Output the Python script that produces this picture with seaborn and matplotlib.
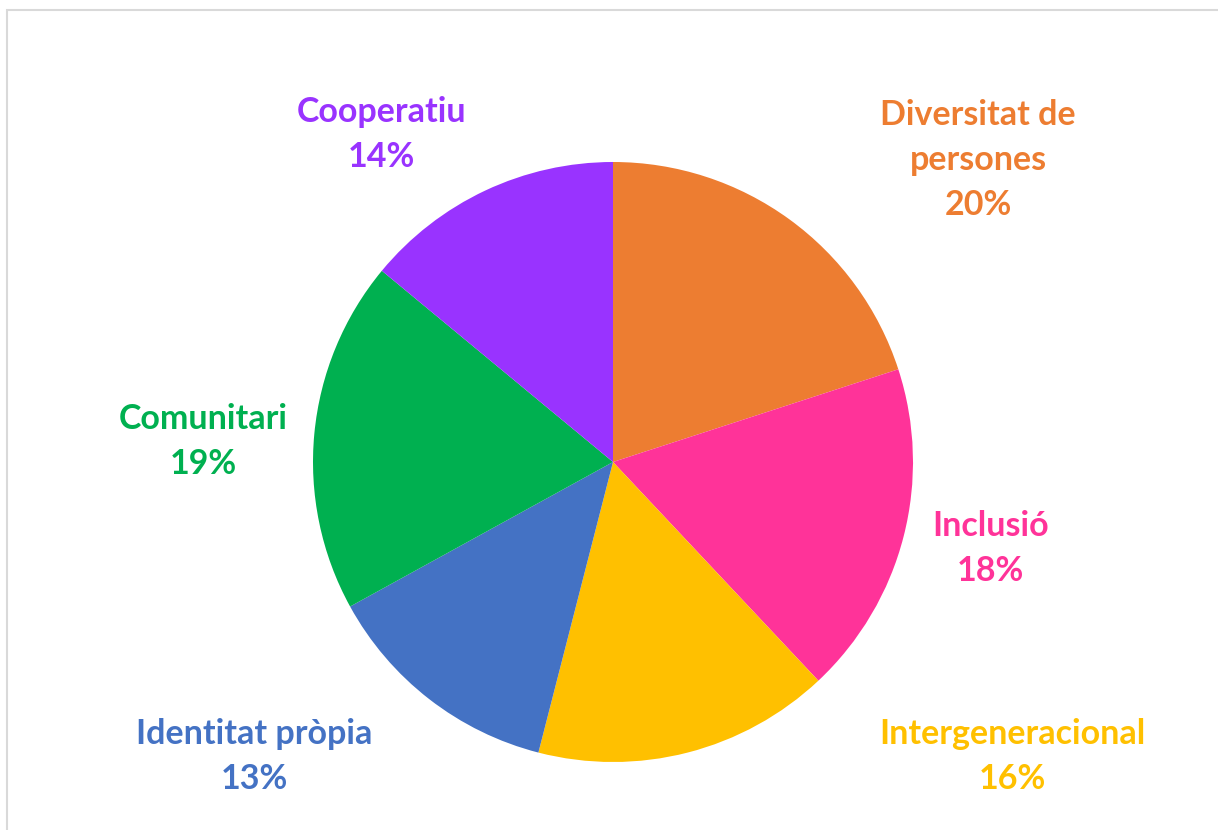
import matplotlib
matplotlib.use("Agg")
import matplotlib.pyplot as plt
import seaborn as sns
from matplotlib.patches import Rectangle


# Data
categories = ['Diversitat de\npersones', 'Inclusió', 'Intergeneracional',
              'Identitat pròpia', 'Comunitari', 'Cooperatiu']
shares     = [20, 18, 16, 13, 19, 14]
colors     = ['#ED7D31', '#FF3399', '#FFC000', '#4472C4', '#00B050', '#9933FF']

# label positions, in pie radii from the centre
label_pos  = [(1.217, 1.007), (1.257, -0.287), (1.33, -0.98),
              (-1.197, -0.98), (-1.367, 0.07), (-0.773, 1.093)]


sns.set_theme(style = "white")
plt.rcParams['font.family'] = ['Lato', 'DejaVu Sans']

fig = plt.figure(figsize = (12.18, 8.30), dpi = 100)
ax  = fig.add_axes([0, 0, 1, 1])

ax.pie(shares,
       colors        = sns.color_palette(colors),
       startangle    = 90,
       counterclock  = False,
       radius        = 1.0,
       wedgeprops    = dict(edgecolor = 'none', linewidth = 0))

for cat, val, col, (x, y) in zip(categories, shares, colors, label_pos):
    ax.text(x, y, f"{cat}\n{val}%", color = col, fontsize = 24.5, fontweight = 'bold',
            ha = 'center', va = 'center', linespacing = 1.5)

# pixel-like scale: 300 px per radius, centre at (613, 462)
ax.set_xlim(-613 / 300, (1218 - 613) / 300)
ax.set_ylim(-(830 - 462) / 300, 462 / 300)
ax.set_aspect('auto')
ax.axis('off')

# light chart-area border
fig.patches.append(Rectangle((7 / 1218, -0.05), 1.2, 1 - 10 / 830 + 0.05,
                             transform = fig.transFigure, fill = False,
                             edgecolor = '#D9D9D9', linewidth = 1.5))

fig.savefig('out.png', dpi = 100)
